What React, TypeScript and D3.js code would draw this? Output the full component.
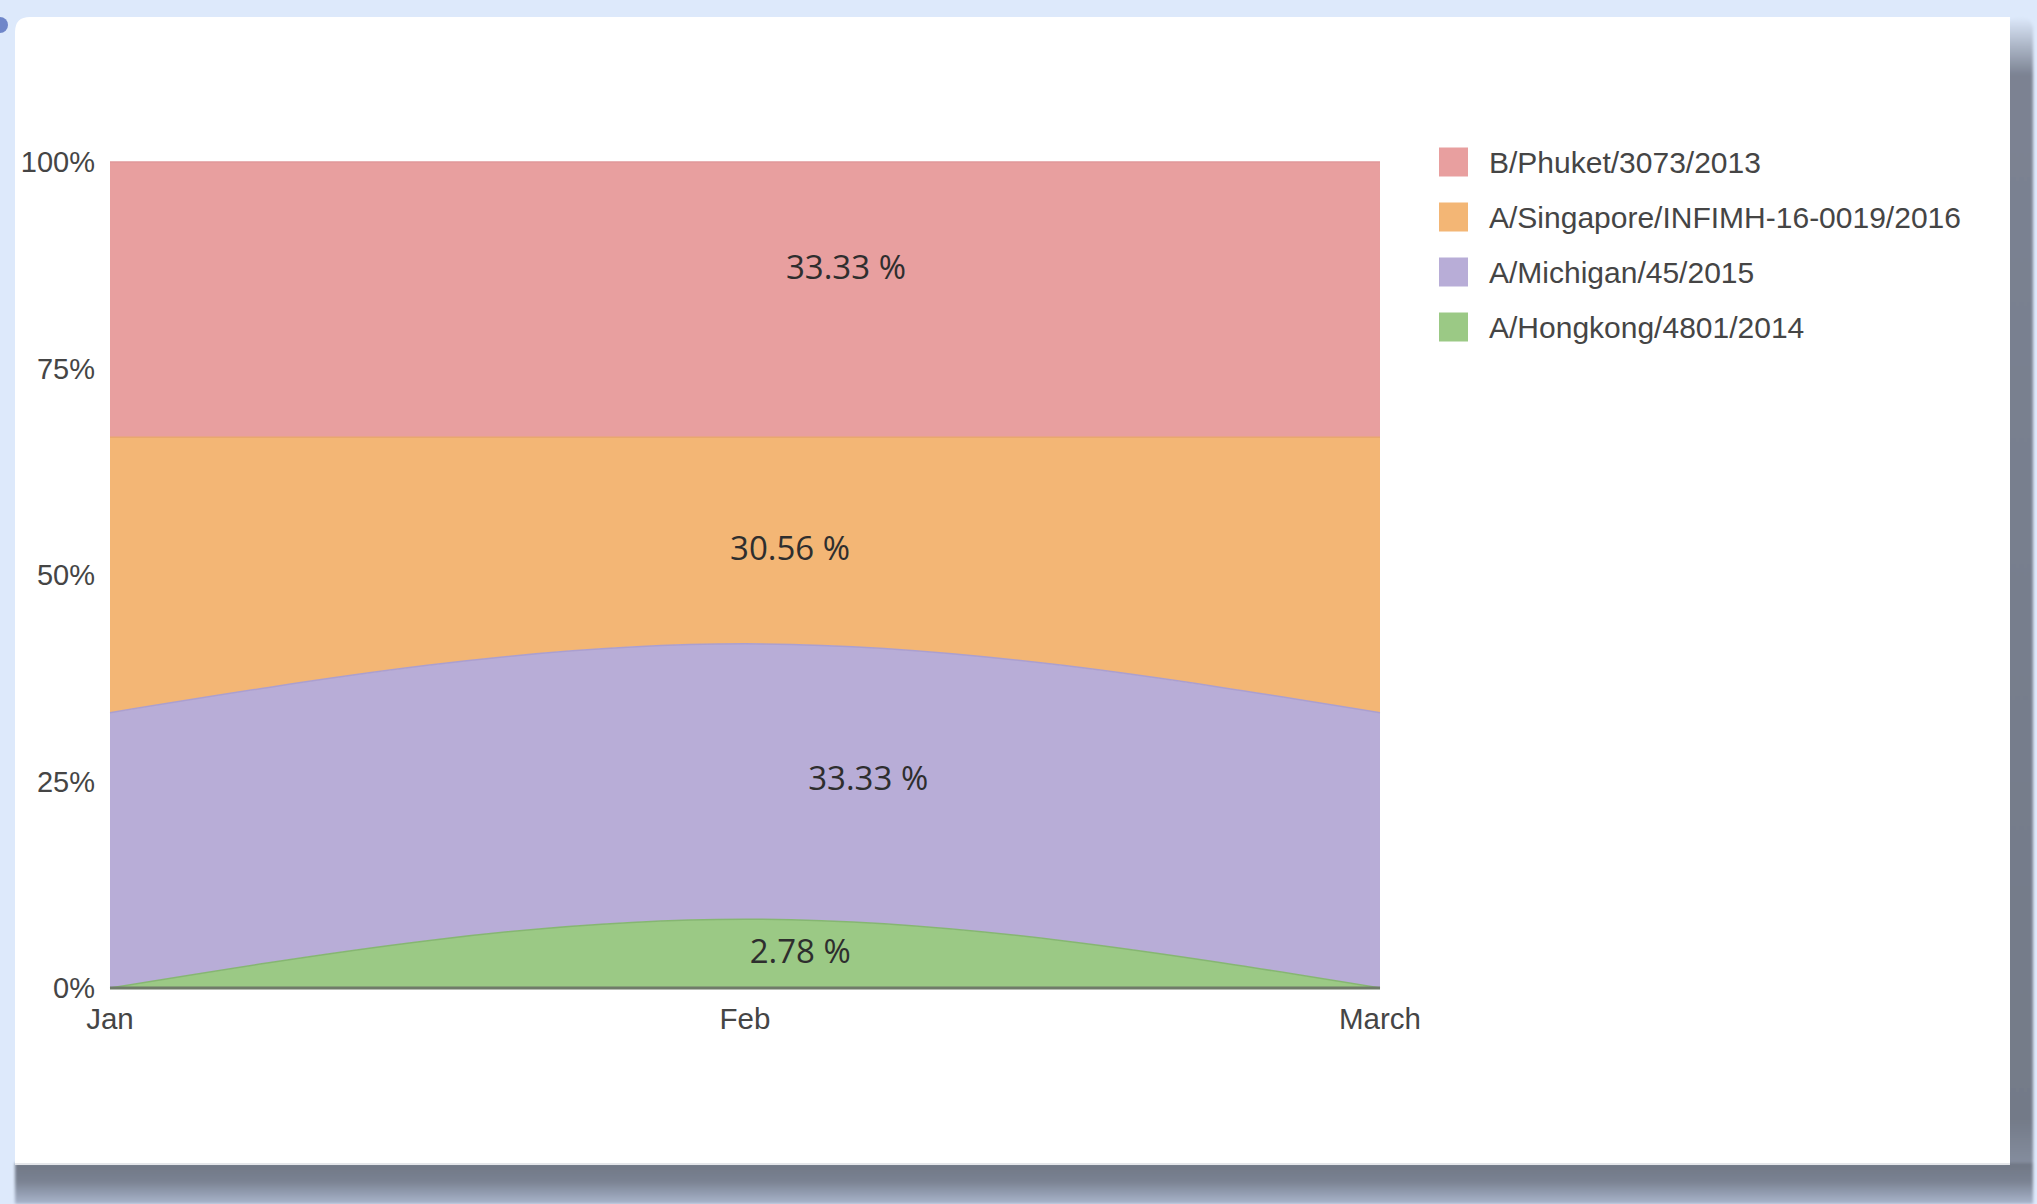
import React from "react";
import * as d3 from "d3";

// Months on the x axis
const months = ["Jan", "Feb", "March"];

// Strain counts per month
const phuket = [4, 4, 4];
const singapore = [4, 3, 4];
const michigan = [4, 4, 4];
const hongkong = [0, 1, 0];

// Legend order (top to bottom) and stack order (bottom to top)
const legendNames = [
  "B/Phuket/3073/2013",
  "A/Singapore/INFIMH-16-0019/2016",
  "A/Michigan/45/2015",
  "A/Hongkong/4801/2014",
];
const stackKeys = ["hongkong", "michigan", "singapore", "phuket"];
const seriesValues: Record<string, number[]> = { phuket, singapore, michigan, hongkong };
const seriesLabel: Record<string, string> = {
  phuket: legendNames[0],
  singapore: legendNames[1],
  michigan: legendNames[2],
  hongkong: legendNames[3],
};
const legendKeys = ["phuket", "singapore", "michigan", "hongkong"];

const fills: Record<string, string> = {
  phuket: "#e89f9f",
  singapore: "#f3b675",
  michigan: "#b8add7",
  hongkong: "#9bc985",
};
const edges: Record<string, string> = {
  phuket: "#e0979a",
  singapore: "#e9a86f",
  michigan: "#ab9fcf",
  hongkong: "#86b672",
};

// Share ticks on the y axis
const yTicks = [0, 0.25, 0.5, 0.75, 1];

// Where each total-share label sits: [month position, share]
const labelAnchors: Record<string, [number, number]> = {
  phuket: [1.159, 0.874],
  singapore: [1.071, 0.533],
  michigan: [1.194, 0.255],
  hongkong: [1.087, 0.046],
};

const W = 2037;
const H = 1204;
const plot = { left: 110, right: 1380, top: 162, bottom: 988 };

export default function App() {
  const x = d3.scaleLinear().domain([0, months.length - 1]).range([plot.left, plot.right]);
  const y = d3.scaleLinear().domain([0, 1]).range([plot.bottom, plot.top]);

  const rows = months.map((m, i) => {
    const r: Record<string, number> = { i };
    stackKeys.forEach((k) => (r[k] = seriesValues[k][i]));
    return r;
  });
  const stacked = d3.stack<Record<string, number>>().keys(stackKeys).offset(d3.stackOffsetExpand)(rows);

  const area = d3
    .area<any>()
    .x((d) => x(d.data.i))
    .y0((d) => y(d[0]))
    .y1((d) => y(d[1]))
    .curve(d3.curveMonotoneX);
  const topLine = d3
    .line<any>()
    .x((d) => x(d.data.i))
    .y((d) => y(d[1]))
    .curve(d3.curveMonotoneX);

  const grand = d3.sum(stackKeys, (k) => d3.sum(seriesValues[k]));
  const pct = (k: string) => ((d3.sum(seriesValues[k]) / grand) * 100).toFixed(2) + " %";

  const sans = "'Liberation Sans', Arial, Helvetica, sans-serif";

  return (
    <svg
      width={W}
      height={H}
      style={{ position: "absolute", left: 0, top: 0, display: "block" }}
    >
      <defs>
        <linearGradient id="shBottom" x1="0" y1="0" x2="0" y2="1">
          <stop offset="0" stopColor="#6f7684" />
          <stop offset="0.45" stopColor="#7a8292" />
          <stop offset="1" stopColor="#a9b5cc" />
        </linearGradient>
        <linearGradient id="shRight" x1="0" y1="0" x2="0" y2="1">
          <stop offset="0" stopColor="#dde9fb" />
          <stop offset="0.05" stopColor="#7b8292" />
          <stop offset="0.95" stopColor="#737a88" />
          <stop offset="1" stopColor="#8a93a5" />
        </linearGradient>
        <filter id="soft" x="-5%" y="-5%" width="110%" height="110%">
          <feGaussianBlur stdDeviation="1.5" />
        </filter>
      </defs>

      <rect x={0} y={0} width={W} height={H} fill="#dde9fb" />
      <circle cx={0} cy={25} r={8} fill="#6f86c9" />

      {/* card shadow */}
      <g filter="url(#soft)">
        <rect x={2006} y={17} width={27} height={1160} rx={12} fill="url(#shRight)" />
        <rect x={15} y={1163} width={2018} height={41} fill="url(#shBottom)" />
        <rect x={2006} y={1163} width={27} height={41} fill="url(#shBottom)" />
      </g>

      {/* card */}
      <path
        d={`M15,${17 + 15} Q15,17 ${15 + 15},17 L2010,17 L2010,1165 L15,1165 Z`}
        fill="#ffffff"
      />
      <line x1={15} x2={2010} y1={1164} y2={1164} stroke="#e4e6ea" strokeWidth={2} />

      {/* stacked areas */}
      {stacked.map((s) => (
        <path key={s.key} d={area(s as any) || ""} fill={fills[s.key]} />
      ))}
      {stacked.map((s) => (
        <path
          key={s.key + "-edge"}
          d={topLine(s as any) || ""}
          fill="none"
          stroke={edges[s.key]}
          strokeWidth={1.5}
        />
      ))}
      <line
        x1={plot.left}
        x2={plot.right}
        y1={y(0)}
        y2={y(0)}
        stroke="#6f7b69"
        strokeWidth={3}
      />

      {/* y axis labels */}
      {yTicks.map((t) => (
        <text
          key={t}
          x={95}
          y={y(t)}
          textAnchor="end"
          dominantBaseline="central"
          fontFamily={sans}
          fontSize={29}
          fill="#454545"
        >
          {d3.format(".0%")(t)}
        </text>
      ))}

      {/* x axis labels */}
      {months.map((m, i) => (
        <text
          key={m}
          x={x(i)}
          y={1018}
          textAnchor="middle"
          dominantBaseline="central"
          fontFamily={sans}
          fontSize={29.5}
          fill="#454545"
        >
          {m}
        </text>
      ))}

      {/* total share labels */}
      {stackKeys.map((k) => (
        <text
          key={k + "-lbl"}
          x={x(labelAnchors[k][0])}
          y={y(labelAnchors[k][1])}
          textAnchor="middle"
          dominantBaseline="central"
          fontFamily="'Open Sans', 'Noto Sans', sans-serif"
          fontSize={33}
          fill="#2e2e2e"
        >
          {pct(k)}
        </text>
      ))}

      {/* legend */}
      {legendKeys.map((k, i) => (
        <g key={k + "-leg"} transform={`translate(1439, ${162 + i * 55})`}>
          <rect x={0} y={-14.5} width={29} height={29} fill={fills[k]} />
          <text
            x={50}
            y={0}
            dominantBaseline="central"
            fontFamily={sans}
            fontSize={30}
            fill="#454545"
          >
            {seriesLabel[k]}
          </text>
        </g>
      ))}
    </svg>
  );
}
